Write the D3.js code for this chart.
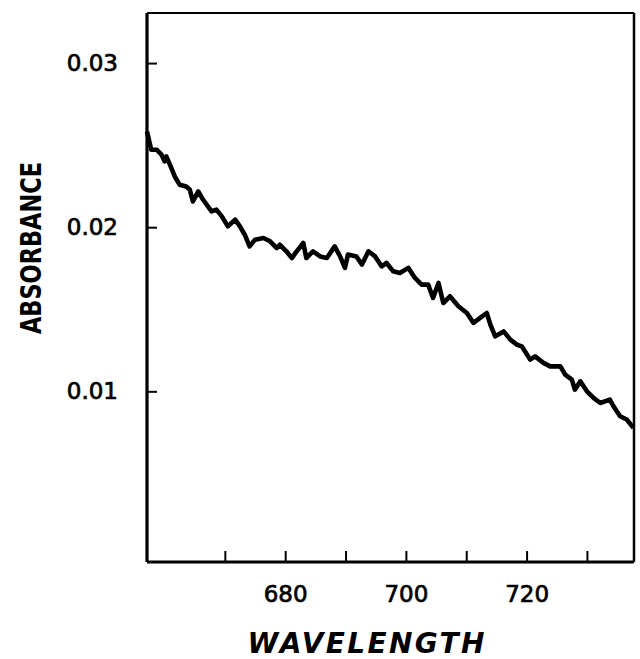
<!DOCTYPE html>
<html>
<head>
<meta charset="utf-8">
<script src="https://cdn.jsdelivr.net/npm/d3@7"></script>
<style>
  body { margin: 0; background: #fff; }
  svg { display: block; }
  .tick text { font-family: "DejaVu Sans", sans-serif; }
</style>
</head>
<body>
<div id="graphic"></div>
<script>
// wavelength (nm) and absorbance
var wavelength = [657.1, 657.8, 658.7, 659.5, 660.0, 660.3, 660.9, 661.7, 662.5, 663.6,
  664.2, 664.7, 665.6, 666.4, 667.8, 668.6, 669.5, 670.5, 671.7, 672.5,
  673.3, 674.1, 675.0, 676.4, 677.5, 678.6, 679.1, 680.2, 681.1, 681.9,
  683.0, 683.5, 684.6, 685.8, 686.9, 688.2, 689.1, 689.9, 690.4, 691.8,
  692.7, 693.8, 694.9, 696.0, 696.8, 697.9, 699.0, 700.4, 701.5, 702.6,
  703.7, 704.5, 705.4, 706.2, 707.3, 708.7, 710.1, 711.2, 712.3, 713.4,
  714.0, 714.8, 716.2, 717.3, 718.4, 719.2, 720.6, 721.4, 722.8, 723.9,
  725.6, 726.4, 727.5, 728.0, 728.9, 730.0, 731.1, 732.2, 733.8, 734.4,
  735.5, 736.6, 737.7];
var absorbance = [0.02583, 0.02472, 0.02472, 0.02442, 0.02401, 0.02431, 0.02381, 0.02309, 0.02259, 0.02248,
  0.02228, 0.02157, 0.02218, 0.02167, 0.02096, 0.02107, 0.02066, 0.02005, 0.02046, 0.02005,
  0.01954, 0.01883, 0.01924, 0.01934, 0.01914, 0.01873, 0.01893, 0.01853, 0.01812, 0.01853,
  0.01904, 0.01812, 0.01853, 0.01822, 0.01812, 0.01883, 0.01822, 0.01752, 0.01833, 0.01822,
  0.01772, 0.01853, 0.01822, 0.01761, 0.01782, 0.01731, 0.01721, 0.01752, 0.01691, 0.01650,
  0.01650, 0.01569, 0.01660, 0.01538, 0.01579, 0.01518, 0.01477, 0.01417, 0.01447, 0.01477,
  0.01406, 0.01335, 0.01365, 0.01315, 0.01284, 0.01274, 0.01193, 0.01213, 0.01173, 0.01152,
  0.01152, 0.01102, 0.01071, 0.01010, 0.01061, 0.01000, 0.00960, 0.00929, 0.00949, 0.00909,
  0.00848, 0.00828, 0.00777];

var xTicks = [670, 680, 690, 700, 710, 720, 730];
var xTickLabels = {680: "680", 700: "700", 720: "720"};
var yTicks = [0.01, 0.02, 0.03];

var width = 640, height = 659;
var margin = {left: 147, right: 634, top: 13, bottom: 562};

var svg = d3.select("#graphic").append("svg")
  .attr("width", width)
  .attr("height", height);

svg.append("rect").attr("width", width).attr("height", height).attr("fill", "#fff");

var x = d3.scaleLinear().domain([657.1, 737.8]).range([margin.left, margin.right]);
var y = d3.scaleLinear().domain([-0.0004, 0.03305]).range([margin.bottom, margin.top]);

// frame (top and right edges)
svg.append("line")
  .attr("x1", margin.left).attr("x2", margin.right)
  .attr("y1", margin.top).attr("y2", margin.top)
  .attr("stroke", "#000").attr("stroke-width", 2);
svg.append("line")
  .attr("x1", margin.right).attr("x2", margin.right)
  .attr("y1", margin.top).attr("y2", margin.bottom)
  .attr("stroke", "#000").attr("stroke-width", 2.5);

var xAxis = svg.append("g")
  .attr("transform", "translate(0," + margin.bottom + ")")
  .call(d3.axisBottom(x)
    .tickValues(xTicks)
    .tickSizeInner(-11)
    .tickSizeOuter(0)
    .tickPadding(24)
    .tickFormat(function(d) { return xTickLabels[d] || ""; }));

var yAxis = svg.append("g")
  .attr("transform", "translate(" + margin.left + ",0)")
  .call(d3.axisLeft(y)
    .tickValues(yTicks)
    .tickSizeInner(-10)
    .tickSizeOuter(0)
    .tickPadding(29)
    .tickFormat(d3.format(".2f")));

[xAxis, yAxis].forEach(function(ax) {
  ax.select(".domain").attr("stroke", "#000").attr("stroke-width", 3.2);
  ax.selectAll(".tick line").attr("stroke", "#000").attr("stroke-width", 2);
  ax.selectAll(".tick text")
    .attr("fill", "#000")
    .attr("stroke", "#000")
    .attr("stroke-width", 0.7)
    .style("font-size", "23px");
});
// axis lines drawn across the full frame
xAxis.select(".domain").attr("d", "M" + margin.left + ",0H" + margin.right);
yAxis.select(".domain").attr("d", "M0," + margin.top + "V" + margin.bottom);

var line = d3.line()
  .x(function(d, i) { return x(wavelength[i]); })
  .y(function(d) { return y(d); });

svg.append("path")
  .datum(absorbance)
  .attr("d", line)
  .attr("fill", "none")
  .attr("stroke", "#000")
  .attr("stroke-width", 4.6)
  .attr("stroke-linejoin", "round");

svg.append("text")
  .attr("x", 366)
  .attr("y", 653)
  .attr("text-anchor", "middle")
  .attr("font-family", "DejaVu Sans, sans-serif")
  .attr("font-weight", "bold")
  .attr("font-style", "italic")
  .attr("font-size", 28)
  .attr("textLength", 237)
  .text("WAVELENGTH");

svg.append("text")
  .attr("transform", "translate(41,248) rotate(-90)")
  .attr("text-anchor", "middle")
  .attr("font-family", "DejaVu Sans, sans-serif")
  .attr("font-weight", "bold")
  .attr("font-size", 29)
  .attr("textLength", 172)
  .attr("lengthAdjust", "spacingAndGlyphs")
  .text("ABSORBANCE");
</script>
</body>
</html>
